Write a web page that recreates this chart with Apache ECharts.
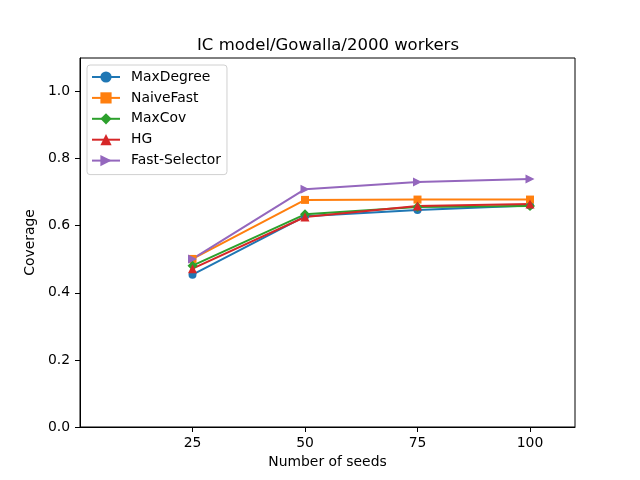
<!DOCTYPE html>
<html>
<head>
<meta charset="utf-8">
<script src="https://cdn.jsdelivr.net/npm/echarts@6/dist/echarts.min.js"></script>
<style>html,body{margin:0;padding:0;background:#fff}#c{width:640px;height:480px}</style>
</head>
<body>
<div id="c"></div>
<script>
var seeds = [25, 50, 75, 100];
var xTicks = [25, 50, 75, 100];
var yTicks = [0, 0.2, 0.4, 0.6, 0.8, 1.0];
var maxDegree = [0.454, 0.628, 0.647, 0.660];
var naiveFast = [0.501, 0.677, 0.678, 0.678];
var maxCov = [0.481, 0.634, 0.656, 0.659];
var hg = [0.472, 0.626, 0.659, 0.665];
var fastSelector = [0.501, 0.709, 0.730, 0.739];

var font = 'DejaVu Sans';
function pairs(v){ return seeds.map(function(s,i){ return [s, v[i]]; }); }
function mk(name, data, color, symbol, size, rot){
  return {
    name: name, type: 'line', data: pairs(data),
    symbol: symbol, symbolSize: size, symbolRotate: rot || 0,
    lineStyle: {color: color, width: 2},
    itemStyle: {color: color},
    emphasis: {disabled: true},
    animation: false
  };
}
var chart = echarts.init(document.getElementById('c'), null, {renderer: 'canvas'});
chart.setOption({
  animation: false,
  title: {
    text: 'IC model/Gowalla/2000 workers',
    left: 323, top: 32, textAlign: 'center',
    textStyle: {fontFamily: font, fontSize: 16.5, fontWeight: 'normal', color: '#000'}
  },
  legend: {
    orient: 'vertical', left: 87, top: 65,
    backgroundColor: '#fff', borderColor: '#d0d0d0', borderWidth: 1, borderRadius: 3,
    padding: [5, 6, 7, 4],
    itemWidth: 28, itemHeight: 14, itemGap: 6.9,
    textStyle: {fontFamily: font, fontSize: 13.9, color: '#000', padding: [0, 0, 0, 6]},
    data: ['MaxDegree', 'NaiveFast', 'MaxCov', 'HG', 'Fast-Selector']
  },
  grid: {left: 80, right: 65, top: 58, bottom: 53, show: true, borderColor: '#000', borderWidth: 1, backgroundColor: 'transparent'},
  xAxis: {
    type: 'value', min: 0, max: 110, interval: 25,
    name: 'Number of seeds', nameLocation: 'middle', nameGap: 28,
    nameTextStyle: {fontFamily: font, fontSize: 13.9, color: '#000'},
    axisLine: {show: true, onZero: false, lineStyle: {color: '#000', width: 1}},
    axisTick: {show: true, length: 5, lineStyle: {color: '#000'}, customValues: xTicks},
    axisLabel: {fontFamily: font, fontSize: 13.9, color: '#000', margin: 9, customValues: xTicks},
    splitLine: {show: false}
  },
  yAxis: {
    type: 'value', min: 0, max: 1.1, interval: 0.2,
    name: 'Coverage', nameLocation: 'middle', nameGap: 37,
    nameTextStyle: {fontFamily: font, fontSize: 13.9, color: '#000'},
    axisLine: {show: true, lineStyle: {color: '#000', width: 1}},
    axisTick: {show: true, length: 5, lineStyle: {color: '#000'}, customValues: yTicks},
    axisLabel: {fontFamily: font, fontSize: 13.9, color: '#000', margin: 10, customValues: yTicks,
      formatter: function(v){ return v.toFixed(1); }},
    splitLine: {show: false}
  },
  series: [
    mk('MaxDegree', maxDegree, '#1f77b4', 'circle', 8),
    mk('NaiveFast', naiveFast, '#ff7f0e', 'rect', 8),
    mk('MaxCov', maxCov, '#2ca02c', 'diamond', 10),
    mk('HG', hg, '#d62728', 'triangle', 9),
    mk('Fast-Selector', fastSelector, '#9467bd', 'triangle', 9, -90)
  ]
});
</script>
</body>
</html>
